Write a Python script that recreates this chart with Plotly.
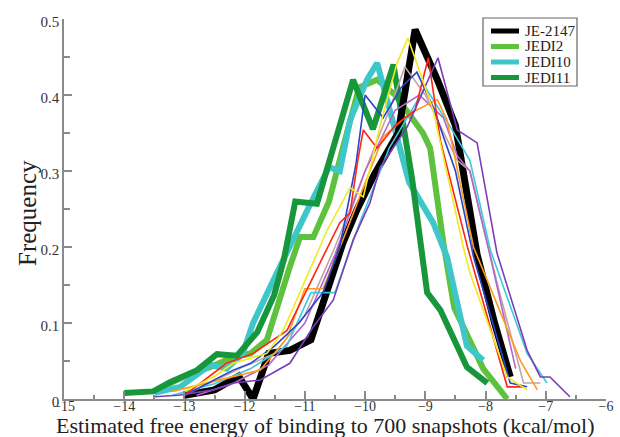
import plotly.graph_objects as go

# ---- data ----
je2147_x = [-13.0, -12.5, -12.1, -11.86, -11.6, -11.25, -10.9, -10.63, -10.37, -10.13, -9.85, -9.45, -9.17, -8.8, -8.5, -8.14, -7.85, -7.59]
je2147_y = [0.005, 0.012, 0.03, 0.0, 0.06, 0.064, 0.078, 0.14, 0.205, 0.25, 0.295, 0.35, 0.486, 0.42, 0.36, 0.19, 0.10, 0.029]

jedi2_x = [-13.36, -13.02, -12.57, -12.19, -11.9, -11.63, -11.25, -11.08, -10.86, -10.6, -10.37, -10.1, -9.8, -9.5, -9.04, -8.92, -8.7, -8.52, -8.04, -7.64]
jedi2_y = [0.016, 0.029, 0.042, 0.055, 0.06, 0.078, 0.174, 0.213, 0.213, 0.26, 0.33, 0.41, 0.42, 0.40, 0.35, 0.33, 0.205, 0.12, 0.04, 0.0]

jedi10_x = [-13.5, -13.07, -12.57, -12.3, -12.03, -11.86, -11.5, -11.2, -10.9, -10.6, -10.42, -10.25, -9.97, -9.8, -9.6, -9.27, -8.87, -8.64, -8.5, -8.31, -8.04]
jedi10_y = [0.008, 0.016, 0.045, 0.04, 0.06, 0.10, 0.16, 0.21, 0.258, 0.305, 0.30, 0.367, 0.42, 0.442, 0.38, 0.285, 0.232, 0.187, 0.137, 0.07, 0.051]

jedi11_x = [-14.0, -13.52, -13.24, -12.79, -12.46, -12.13, -11.79, -11.51, -11.35, -11.16, -10.8, -10.5, -10.2, -9.87, -9.53, -9.22, -8.97, -8.75, -8.31, -7.97]
jedi11_y = [0.008, 0.01, 0.022, 0.038, 0.059, 0.057, 0.088, 0.137, 0.183, 0.26, 0.257, 0.34, 0.42, 0.355, 0.44, 0.29, 0.14, 0.117, 0.042, 0.021]

yellow_x = [-13.0, -12.5, -12.19, -11.63, -11.36, -11.08, -10.63, -10.25, -10.03, -9.75, -9.47, -9.29, -8.87, -8.37, -8.26, -7.64, -7.31]
yellow_y = [0.01, 0.03, 0.047, 0.06, 0.09, 0.14, 0.222, 0.278, 0.266, 0.36, 0.442, 0.475, 0.38, 0.2, 0.166, 0.029, 0.012]

red_x = [-13.0, -12.3, -11.86, -11.3, -10.7, -10.42, -10.25, -10.13, -10.03, -9.8, -9.5, -9.17, -8.95, -8.75, -8.3, -7.64, -7.37]
red_y = [0.005, 0.047, 0.06, 0.09, 0.187, 0.232, 0.245, 0.31, 0.354, 0.33, 0.36, 0.38, 0.449, 0.34, 0.2, 0.016, 0.016]

orange_x = [-13.2, -12.4, -11.74, -11.3, -11.0, -10.7, -10.37, -9.7, -9.25, -8.8, -8.64, -8.2, -7.42, -7.14]
orange_y = [0.01, 0.025, 0.038, 0.08, 0.145, 0.145, 0.209, 0.345, 0.376, 0.394, 0.367, 0.2, 0.05, 0.012]

blue_x = [-13.0, -12.19, -11.9, -11.5, -11.1, -10.7, -10.42, -10.15, -10.0, -9.7, -9.4, -9.14, -8.87, -8.5, -8.2, -7.59, -7.31]
blue_y = [0.005, 0.038, 0.047, 0.07, 0.1, 0.14, 0.2, 0.31, 0.4, 0.37, 0.41, 0.43, 0.384, 0.3, 0.187, 0.021, 0.016]

purple_x = [-13.5, -13.1, -12.52, -12.19, -11.74, -11.25, -10.86, -10.53, -10.2, -9.92, -9.75, -9.3, -8.79, -8.47, -8.14, -7.81, -7.31, -7.09, -6.93, -6.6]
purple_y = [0.003, 0.005, 0.012, 0.021, 0.025, 0.047, 0.095, 0.13, 0.209, 0.258, 0.305, 0.358, 0.449, 0.354, 0.337, 0.192, 0.064, 0.029, 0.029, 0.003]

cyanthin_x = [-13.2, -12.5, -11.9, -11.3, -10.9, -10.5, -10.1, -9.6, -9.0, -8.6, -8.26, -7.92, -7.31, -6.98]
cyanthin_y = [0.005, 0.02, 0.04, 0.07, 0.14, 0.14, 0.23, 0.33, 0.41, 0.36, 0.314, 0.196, 0.06, 0.021]

mauve_x = [-13.0, -12.03, -11.5, -11.0, -10.5, -10.0, -9.6, -9.34, -9.0, -8.47, -8.26, -7.8, -7.37, -7.09]
mauve_y = [0.005, 0.042, 0.06, 0.11, 0.2, 0.3, 0.38, 0.437, 0.40, 0.314, 0.30, 0.15, 0.021, 0.021]

lilac_x = [-12.8, -12.2, -11.6, -11.0, -10.5, -10.0, -9.5, -9.1, -8.7, -8.47, -8.26, -7.9, -7.5]
lilac_y = [0.005, 0.02, 0.045, 0.1, 0.19, 0.3, 0.38, 0.40, 0.37, 0.32, 0.30, 0.18, 0.04]

x_ticks = [-15, -14, -13, -12, -11, -10, -9, -8, -7, -6]
y_ticks = [0, 0.1, 0.2, 0.3, 0.4, 0.5]
y_ticktext = ["0", "0.1", "0.2", "0.3", "0.4", "0.5"]

legend_names = ["JE-2147", "JEDI2", "JEDI10", "JEDI11"]
legend_colors = ["#000000", "#5ec23e", "#3fc6c8", "#17963c"]

SERIF = "Liberation Serif, Times New Roman, serif"

fig = go.Figure()

# thick named series (drawn first so thin lines sit on top)
thick = [
    ("JEDI2", jedi2_x, jedi2_y, "#5ec23e", 6),
    ("JEDI10", jedi10_x, jedi10_y, "#3fc6c8", 6),
    ("JEDI11", jedi11_x, jedi11_y, "#17963c", 6),
    ("JE-2147", je2147_x, je2147_y, "#000000", 7),
]
for name, xs, ys, col, w in thick:
    fig.add_trace(go.Scatter(x=xs, y=ys, mode="lines", name=name, showlegend=False,
                             line=dict(color=col, width=w)))

thin = [
    (mauve_x, mauve_y, "#c4a2a8"),
    (lilac_x, lilac_y, "#b466c8"),
    (cyanthin_x, cyanthin_y, "#3fc8dc"),
    (orange_x, orange_y, "#ff9a1e"),
    (blue_x, blue_y, "#2546c8"),
    (red_x, red_y, "#ff2418"),
    (purple_x, purple_y, "#7a3db6"),
    (yellow_x, yellow_y, "#f0ea20"),
]
for xs, ys, col in thin:
    fig.add_trace(go.Scatter(x=xs, y=ys, mode="lines", showlegend=False,
                             line=dict(color=col, width=1.6)))

# ---- manual legend (box, line samples, labels) ----
L, R, T, B = 64, 14, 19, 38
W, H = 620, 437
pw, ph = W - L - R, H - T - B
def px_x(p):
    return (p - L) / pw
def px_y(p):
    return (H - B - p) / ph

shapes = [dict(type="rect", xref="paper", yref="paper",
               x0=px_x(483), x1=px_x(577), y0=px_y(86), y1=px_y(18),
               line=dict(color="#666", width=1.2), fillcolor="white", layer="above")]
annotations = []
for i, (nm, col) in enumerate(zip(legend_names, legend_colors)):
    yc = 31 + i * 15.5
    shapes.append(dict(type="line", xref="paper", yref="paper",
                       x0=px_x(491), x1=px_x(519), y0=px_y(yc), y1=px_y(yc),
                       line=dict(color=col, width=5), layer="above"))
    annotations.append(dict(text=nm, xref="paper", yref="paper", x=px_x(523), y=px_y(yc),
                            xanchor="left", yanchor="middle", showarrow=False,
                            font=dict(family=SERIF, size=15, color="#222")))

# axis titles
annotations.append(dict(text="Estimated free energy of binding to 700 snapshots (kcal/mol)",
                        xref="paper", yref="paper", x=px_x(325), y=px_y(425),
                        xanchor="center", yanchor="middle", showarrow=False, borderpad=0,
                        font=dict(family=SERIF, size=22, color="#222")))
annotations.append(dict(text="Frequency", xref="paper", yref="paper", x=px_x(27), y=px_y(213),
                        xanchor="center", yanchor="middle", showarrow=False, textangle=-90,
                        font=dict(family=SERIF, size=25, color="#222")))

fig.update_layout(
    width=W, height=H,
    margin=dict(l=L, r=R, t=T, b=B),
    paper_bgcolor="white", plot_bgcolor="white",
    font=dict(family=SERIF, color="#222"),
    showlegend=False,
    shapes=shapes, annotations=annotations,
)
fig.update_xaxes(
    range=[-15, -6], tickvals=x_ticks, showgrid=False, zeroline=False, automargin=False,
    showline=True, linecolor="#8a8a8a", linewidth=1.5,
    ticks="inside", ticklen=8, tickcolor="#8a8a8a", tickwidth=1.5,
    minor=dict(dtick=0.5, ticks="inside", ticklen=4, tickcolor="#8a8a8a", tickwidth=1.5),
    tickfont=dict(family=SERIF, size=14, color="#333"),
    ticklabelstandoff=-7,
)
fig.update_yaxes(
    range=[0, 0.5], tickvals=y_ticks, ticktext=y_ticktext,
    showgrid=False, zeroline=False, automargin=False,
    showline=True, linecolor="#8a8a8a", linewidth=1.5,
    ticks="inside", ticklen=8, tickcolor="#8a8a8a", tickwidth=1.5,
    minor=dict(dtick=0.05, ticks="inside", ticklen=6, tickcolor="#8a8a8a", tickwidth=1.5),
    tickfont=dict(family=SERIF, size=15, color="#333"),
    ticklabelshift=3,
)

fig.write_html("out.html")
